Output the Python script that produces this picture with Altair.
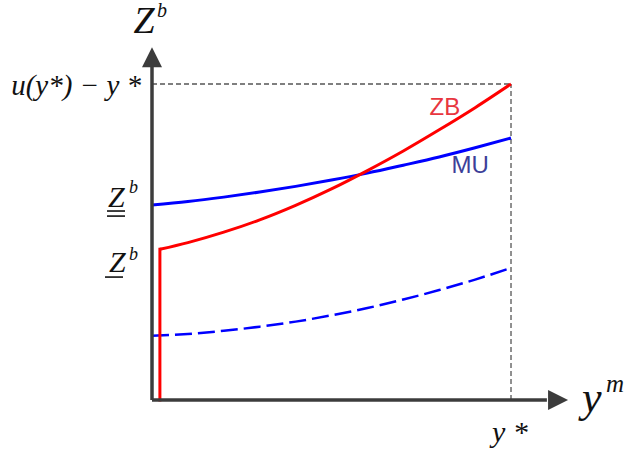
import altair as alt
import pandas as pd

# Units: output y^m runs from 0 to y* = 1, Z^b from 0 to u(y*) - y* = 1.
grid_x = [0.0, 0.1, 0.2, 0.3, 0.4, 0.5, 0.6, 0.7, 0.8, 0.9, 1.0]

# ZB: vertical jump at the start ...
zb_jump_x = [0.022, 0.022]
zb_jump_y = [0.0, 0.477]
# ... then a convex rise to (y*, u(y*) - y*)
zb_x = [0.022, 0.1, 0.2, 0.3, 0.4, 0.5, 0.6, 0.7, 0.8, 0.9, 1.0]
zb_y = [0.477, 0.498, 0.531, 0.570, 0.616, 0.668, 0.726, 0.788, 0.855, 0.925, 1.0]

# MU (solid) and its lower counterpart (dashed)
mu_y = [0.617, 0.628, 0.642, 0.658, 0.676, 0.696, 0.718, 0.743, 0.769, 0.798, 0.829]
mu_low_y = [0.203, 0.209, 0.219, 0.232, 0.248, 0.268, 0.291, 0.318, 0.348, 0.381, 0.418]

# Axis geometry (arrow shafts end where arrowheads begin)
y_axis_top = 1.054
x_axis_end = 1.100
arrow_up_at = 1.085
arrow_right_at = 1.131

x_dom = [-0.4234, 1.3231]
y_dom = [-0.1646, 1.2658]

xs = alt.Scale(domain=x_dom, nice=False, zero=False)
ys = alt.Scale(domain=y_dom, nice=False, zero=False)


def X(f="x"):
    return alt.X(f"{f}:Q", scale=xs, axis=None)


def Y(f="y"):
    return alt.Y(f"{f}:Q", scale=ys, axis=None)


zb_jump = pd.DataFrame({"x": zb_jump_x, "y": zb_jump_y})
zb = pd.DataFrame({"x": zb_x, "y": zb_y})
mu = pd.DataFrame({"x": grid_x, "y": mu_y})
mu_low = pd.DataFrame({"x": grid_x, "y": mu_low_y})

guides = pd.DataFrame({"x": [0.0, 1.0], "y": [1.0, 0.0], "x2": [1.0, 1.0], "y2": [1.0, 1.0]})
axes = pd.DataFrame({"x": [0.0, 0.0], "y": [0.0, 0.0], "x2": [0.0, x_axis_end], "y2": [y_axis_top, 0.0]})

guide_layer = alt.Chart(guides).mark_rule(
    color="#555555", strokeWidth=1.3, strokeDash=[5, 3]
).encode(x=X(), y=Y(), x2="x2:Q", y2="y2:Q")

axis_layer = alt.Chart(axes).mark_rule(
    color="#3c3c3c", strokeWidth=3.5
).encode(x=X(), y=Y(), x2="x2:Q", y2="y2:Q")

arrow_up = alt.Chart(pd.DataFrame({"x": [0.0], "y": [arrow_up_at]})).mark_point(
    shape="M0,-1 L1,1 L-1,1 Z", filled=True, size=400, color="#3c3c3c", opacity=1
).encode(x=X(), y=Y())

arrow_right = alt.Chart(pd.DataFrame({"x": [arrow_right_at], "y": [0.0]})).mark_point(
    shape="M1,0 L-1,-1 L-1,1 Z", filled=True, size=400, color="#3c3c3c", opacity=1
).encode(x=X(), y=Y())

zb_jump_line = alt.Chart(zb_jump).mark_line(
    color="#ff0000", strokeWidth=3, strokeCap="square"
).encode(x=X(), y=Y(), order="y:Q")
zb_line = alt.Chart(zb).mark_line(
    color="#ff0000", strokeWidth=3, interpolate="monotone"
).encode(x=X(), y=Y())
mu_line = alt.Chart(mu).mark_line(
    color="#0000ff", strokeWidth=3, interpolate="monotone"
).encode(x=X(), y=Y())
mu_low_line = alt.Chart(mu_low).mark_line(
    color="#0000ff", strokeWidth=2.5, strokeDash=[17, 6], interpolate="monotone"
).encode(x=X(), y=Y())

# Top "Z" of the vertical axis title, centred over the axis
top_z = alt.Chart(pd.DataFrame({"x": [-0.0223], "y": [1.1614], "t": ["Z"]})).mark_text(
    font="Liberation Serif", fontStyle="italic", baseline="alphabetic", align="center",
    fontSize=38, color="#111111"
).encode(x=X(), y=Y(), text="t:N")

# Other math-style labels (serif italic, left aligned)
math_labels = pd.DataFrame({
    "x": [0.0139, 1.1978, 1.2646, -0.1226, -0.0641, -0.1198, -0.0641, 0.947],
    "y": [1.2120, -0.0380, 0.0253, 0.6108, 0.6550, 0.4050, 0.4430, -0.1329],
    "t": ["b", "y", "m", "Z", "b", "Z", "b", "y *"],
    "s": [20, 44, 25, 30, 18, 30, 18, 30],
})
math_layer = alt.Chart(math_labels).mark_text(
    font="Liberation Serif", fontStyle="italic", baseline="alphabetic", align="left",
    color="#111111"
).encode(
    x=X(), y=Y(), text="t:N",
    size=alt.Size("s:Q", scale=None, legend=None),
)

ustar = alt.Chart(pd.DataFrame({"x": [-0.0306], "y": [0.9652], "t": ["u(y*) − y *"]})).mark_text(
    font="Liberation Serif", fontStyle="italic", baseline="alphabetic", align="right",
    fontSize=29, color="#111111"
).encode(x=X(), y=Y(), text="t:N")

# Underlines under the two Z^b threshold labels
underlines = pd.DataFrame({
    "x": [-0.1253, -0.1253, -0.1309],
    "x2": [-0.0752, -0.0752, -0.0808],
    "y": [0.598, 0.582, 0.389],
})
underline_layer = alt.Chart(underlines).mark_rule(color="#111111", strokeWidth=1.6).encode(
    x=X(), x2="x2:Q", y=Y()
)

# Curve names
names = pd.DataFrame({
    "x": [0.816, 0.886],
    "y": [0.924, 0.7405],
    "t": ["ZB", "MU"],
    "c": ["#e8363f", "#3d3f99"],
})
name_layer = alt.Chart(names).mark_text(
    font="Liberation Sans", fontSize=24, baseline="middle", align="center"
).encode(
    x=X(), y=Y(), text="t:N",
    color=alt.Color("c:N", scale=None, legend=None),
)

chart = alt.layer(
    guide_layer, mu_low_line, mu_line, zb_jump_line, zb_line, axis_layer,
    arrow_up, arrow_right, top_z, math_layer, ustar, underline_layer, name_layer,
).properties(
    width=627, height=452, autosize=alt.AutoSizeParams(type="none"), padding=0
).configure_view(stroke=None)

chart.save("out.html", embed_options={"renderer": "svg", "actions": False})
